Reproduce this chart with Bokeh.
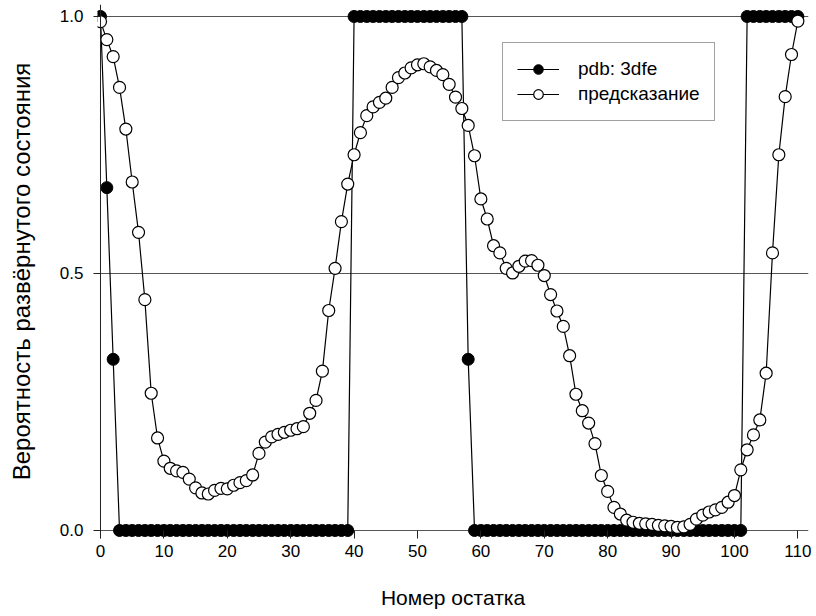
from bokeh.plotting import figure
from bokeh.models import Range1d, FixedTicker, NumeralTickFormatter, Span, Legend, LegendItem
from bokeh.embed import file_html
from bokeh.resources import INLINE

residue = list(range(0, 111))

pdb_3dfe = [1.0, 0.667, 0.333,
            0, 0, 0, 0, 0, 0, 0, 0, 0, 0, 0, 0, 0, 0, 0, 0, 0, 0, 0, 0, 0, 0, 0, 0, 0, 0, 0, 0, 0, 0, 0, 0, 0, 0, 0, 0, 0,
            1, 1, 1, 1, 1, 1, 1, 1, 1, 1, 1, 1, 1, 1, 1, 1, 1, 1,
            0.333,
            0, 0, 0, 0, 0, 0, 0, 0, 0, 0, 0, 0, 0, 0, 0, 0, 0, 0, 0, 0, 0, 0, 0, 0, 0, 0, 0, 0, 0, 0, 0, 0, 0, 0, 0, 0, 0, 0, 0, 0, 0, 0, 0,
            1, 1, 1, 1, 1, 1, 1, 1, 1]

prediction = [0.990, 0.955, 0.922, 0.862, 0.781, 0.678, 0.580, 0.449, 0.267, 0.180,
              0.135, 0.121, 0.116, 0.113, 0.100, 0.083, 0.073, 0.071, 0.078, 0.082,
              0.081, 0.088, 0.093, 0.097, 0.108, 0.150, 0.172, 0.182, 0.187, 0.191,
              0.195, 0.198, 0.202, 0.228, 0.253, 0.310, 0.428, 0.510, 0.601, 0.674,
              0.731, 0.774, 0.807, 0.824, 0.833, 0.841, 0.862, 0.881, 0.890, 0.900,
              0.906, 0.908, 0.902, 0.895, 0.887, 0.868, 0.843, 0.821, 0.788, 0.729,
              0.645, 0.606, 0.554, 0.540, 0.510, 0.501, 0.514, 0.524, 0.525, 0.516,
              0.496, 0.459, 0.427, 0.397, 0.340, 0.265, 0.233, 0.209, 0.169, 0.107,
              0.076, 0.045, 0.032, 0.020, 0.016, 0.014, 0.013, 0.012, 0.010, 0.009,
              0.008, 0.006, 0.007, 0.012, 0.022, 0.030, 0.036, 0.040, 0.045, 0.055,
              0.068, 0.118, 0.157, 0.186, 0.215, 0.306, 0.540, 0.731, 0.844, 0.926,
              0.991]

x_ticks = [0, 10, 20, 30, 40, 50, 60, 70, 80, 90, 100, 110]
y_ticks = [0.0, 0.5, 1.0]

x_title = "Номер остатка"
y_title = "Вероятность развёрнутого состояния"
label_pdb = "pdb: 3dfe"
label_pred = "предсказание"

FONT = "Liberation Sans"

p = figure(width=816, height=616,
           x_range=Range1d(-0.473, 111.68), y_range=Range1d(-0.0156, 1.0233),
           output_backend="svg", toolbar_location=None,
           min_border_left=97, min_border_right=8, min_border_top=4, min_border_bottom=78)
p.outline_line_color = None
p.background_fill_color = "white"

# axes
p.xaxis.ticker = FixedTicker(ticks=x_ticks)
p.yaxis.ticker = FixedTicker(ticks=y_ticks)
p.yaxis.formatter = NumeralTickFormatter(format="0.0")
for ax in (p.xaxis[0], p.yaxis[0]):
    ax.axis_line_color = None
    ax.minor_tick_line_color = None
    ax.major_tick_line_color = "#222222"
    ax.major_tick_line_width = 1
    ax.major_label_text_font = FONT
    ax.major_label_text_font_size = "17px"
    ax.major_label_text_color = "black"
    ax.axis_label_text_font = FONT
    ax.axis_label_text_font_style = "normal"
    ax.axis_label_text_color = "black"

p.xaxis.major_tick_in = 8
p.xaxis.major_tick_out = 0
p.xaxis.major_label_standoff = 6
p.xaxis.axis_label = x_title
p.xaxis.axis_label_text_font_size = "21px"
p.xaxis.axis_label_standoff = 26

p.yaxis.major_tick_in = 3
p.yaxis.major_tick_out = 4
p.yaxis.major_label_standoff = 10
p.yaxis.axis_label = y_title
p.yaxis.axis_label_text_font_size = "24px"
p.yaxis.axis_label_standoff = 22

p.xgrid.visible = False
p.ygrid.ticker = FixedTicker(ticks=y_ticks)
p.ygrid.grid_line_color = "#555555"
p.ygrid.grid_line_width = 1

p.add_layout(Span(location=0, dimension="height", line_color="#222222", line_width=1))

# series
l1 = p.line(residue, pdb_3dfe, line_color="black", line_width=1.2)
s1 = p.scatter(residue, pdb_3dfe, size=12, marker="circle", fill_color="black", line_color="black", line_width=1)
l2 = p.line(residue, prediction, line_color="black", line_width=1.2)
s2 = p.scatter(residue, prediction, size=12, marker="circle", fill_color="white", line_color="black", line_width=1.2)

legend = Legend(items=[LegendItem(label=label_pdb, renderers=[l1, s1]),
                       LegendItem(label=label_pred, renderers=[l2, s2])],
                location=(405, 417))
legend.label_text_font = FONT
legend.label_text_font_size = "19px"
legend.label_text_color = "black"
legend.glyph_width = 42
legend.glyph_height = 24
legend.label_standoff = 19
legend.padding = 14
legend.spacing = 1
legend.margin = 0
legend.border_line_color = "#444444"
legend.border_line_width = 1
legend.background_fill_alpha = 1
p.add_layout(legend, "center")

open("out.html", "w").write(file_html(p, INLINE))
